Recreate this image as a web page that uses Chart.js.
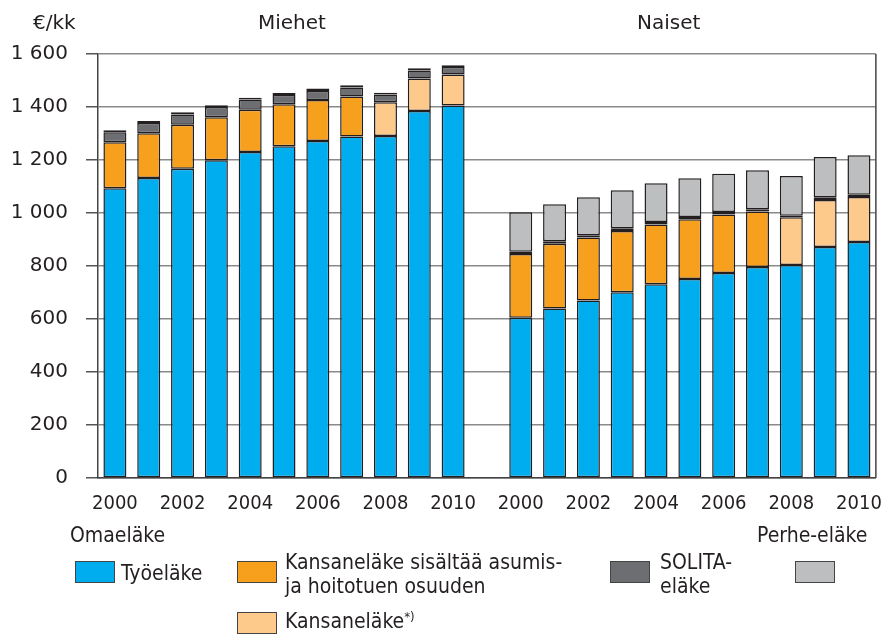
<!DOCTYPE html>
<html>
<head>
<meta charset="utf-8">
<script src="https://cdn.jsdelivr.net/npm/chart.js@4"></script>
<style>
  body { margin: 0; background: #fff; }
  #wrap { position: relative; width: 888px; height: 634px; overflow: hidden; }
  #wrap canvas { position: absolute; left: 0; top: 0; }
  .t { position: absolute; color: #231f20; white-space: nowrap; line-height: 24px; }
  .reg { font-family: "DejaVu Sans", sans-serif; font-size: 20px; }
  .cond { font-family: "DejaVu Sans Condensed", "DejaVu Sans", sans-serif; font-stretch: condensed; font-size: 21px; }
  .box { position: absolute; width: 40px; height: 22px; border: 1px solid #444; box-sizing: border-box; }
  sup { font-size: 13px; vertical-align: 7px; line-height: 0; }
</style>
</head>
<body>
<div id="wrap">
  <canvas id="c" width="888" height="634"></canvas>
  <div class="t reg" style="left:33px;top:10px">€/kk</div>
  <div class="t reg" style="left:258px;top:10px">Miehet</div>
  <div class="t reg" style="left:637px;top:10px">Naiset</div>

  <div class="t cond" style="left:70px;top:523px">Omaeläke</div>
  <div class="t cond" style="left:757px;top:523px">Perhe-eläke</div>

  <div class="box" style="left:75px;top:561px;background:#00aeef"></div>
  <div class="t cond" style="left:121px;top:561px">Työeläke</div>
  <div class="box" style="left:237px;top:561px;background:#f7a01d"></div>
  <div class="t cond" style="left:285px;top:550px">Kansaneläke sisältää asumis-<br>ja hoitotuen osuuden</div>
  <div class="box" style="left:610px;top:561px;background:#6d6e71"></div>
  <div class="t cond" style="left:660px;top:550px">SOLITA-<br>eläke</div>
  <div class="box" style="left:795px;top:561px;background:#bcbec0"></div>
  <div class="box" style="left:237px;top:612px;background:#fdca8b"></div>
  <div class="t cond" style="left:285px;top:609px">Kansaneläke<sup>*)</sup></div>
</div>
<script>
// categories: Miehet 2000-2010, empty slot, Naiset 2000-2010
const years = ['2000','2001','2002','2003','2004','2005','2006','2007','2008','2009','2010'];
const categories = [...years, '', ...years];

// values €/kk (men | gap | women)
const tyoelake       = [1093,1132,1167,1199,1230,1252,1272,1289,1291,1385,1406, null, 605,640,670,701,731,751,774,796,804,872,891];
const kansanelakeAsum = [174,169,166,162,160,158,154,151,null,null,null, null, 240,244,238,231,226,225,220,210,null,null,null];
const kansanelake    = [null,null,null,null,null,null,null,null,127,123,117, null, null,null,null,null,null,null,null,null,180,177,169];
const solita         = [38,39,39,39,38,35,34,34,29,30,28, null, 9,9,8,10,9,9,10,8,6,10,9];
const perhe          = [7,7,8,7,7,8,10,8,7,8,7, null, 149,140,143,144,146,146,144,147,150,152,149];

const yTicks = [0,200,400,600,800,1000,1200,1400,1600];

const condFont = '"DejaVu Sans Condensed", "DejaVu Sans", sans-serif';
const regFont = '"DejaVu Sans", sans-serif';

function ds(label, data, color){
  return {
    label, data,
    backgroundColor: color,
    borderColor: '#231f20',
    borderWidth: 1.5,
    borderSkipped: false,
    barPercentage: 0.68,
    categoryPercentage: 1
  };
}

// right side frame line
const frame = {
  id: 'frame',
  afterDraw(chart){
    const {ctx, chartArea: a} = chart;
    ctx.save();
    ctx.strokeStyle = '#444';
    ctx.lineWidth = 1.5;
    ctx.beginPath();
    ctx.moveTo(a.right, a.top);
    ctx.lineTo(a.right, a.bottom);
    ctx.stroke();
    ctx.restore();
  }
};

new Chart(document.getElementById('c'), {
  type: 'bar',
  data: {
    labels: categories,
    datasets: [
      ds('Työeläke', tyoelake, '#00aeef'),
      ds('Kansaneläke sisältää asumis- ja hoitotuen osuuden', kansanelakeAsum, '#f7a01d'),
      ds('Kansaneläke*)', kansanelake, '#fdca8b'),
      ds('SOLITA-eläke', solita, '#6d6e71'),
      ds('Perhe-eläke', perhe, '#bcbec0')
    ]
  },
  options: {
    responsive: false,
    animation: false,
    layout: { padding: { left: 0, top: 54, right: 7, bottom: 124 } },
    plugins: { legend: { display: false }, tooltip: { enabled: false } },
    scales: {
      x: {
        stacked: true,
        grid: { display: false },
        border: { display: true, color: '#444', width: 1.5 },
        ticks: {
          autoSkip: false, maxRotation: 0, padding: 6,
          color: '#231f20',
          font: { family: condFont, size: 20 },
          callback: (v, i) => (categories[i] && +categories[i] % 2 === 0) ? categories[i] : ''
        },
        afterFit: s => { s.height = 32; }
      },
      y: {
        stacked: true,
        min: 0, max: 1600,
        afterBuildTicks: s => { s.ticks = yTicks.map(v => ({ value: v })); },
        grid: { color: '#8a8a8a', lineWidth: 1.5, tickLength: 12, tickColor: '#555' },
        border: { display: true, color: '#444', width: 1.5 },
        ticks: {
          padding: 18,
          color: '#231f20',
          font: { family: regFont, size: 20 },
          callback: v => String(v).replace(/\B(?=(\d{3})+(?!\d))/g, ' ')
        },
        afterFit: s => { s.width = 98; }
      }
    }
  },
  plugins: [frame]
});
</script>
</body>
</html>
